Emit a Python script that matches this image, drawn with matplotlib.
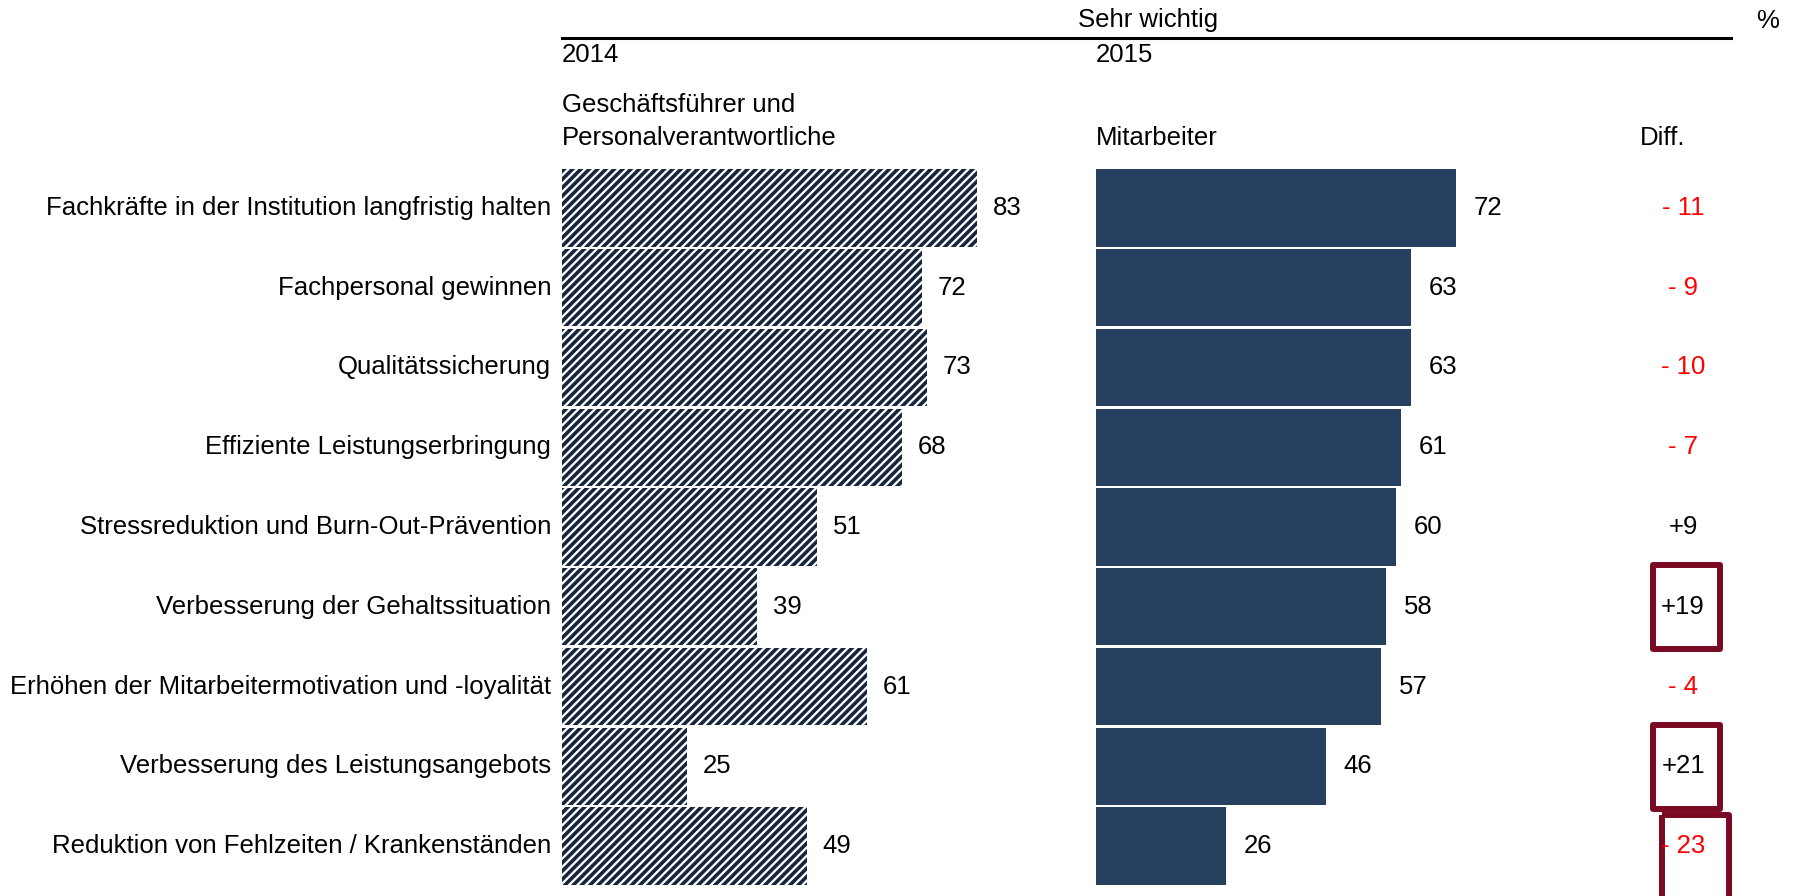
import matplotlib.pyplot as plt
from matplotlib.patches import Rectangle

plt.rcParams['font.family'] = ['Liberation Sans', 'DejaVu Sans']
plt.rcParams['hatch.linewidth'] = 2.6

categories = [
    "Fachkräfte in der Institution langfristig halten",
    "Fachpersonal gewinnen",
    "Qualitätssicherung",
    "Effiziente Leistungserbringung",
    "Stressreduktion und Burn-Out-Prävention",
    "Verbesserung der Gehaltssituation",
    "Erhöhen der Mitarbeitermotivation und -loyalität",
    "Verbesserung des Leistungsangebots",
    "Reduktion von Fehlzeiten / Krankenständen",
]
values_2014 = [83, 72, 73, 68, 51, 39, 61, 25, 49]
values_2015 = [72, 63, 63, 61, 60, 58, 57, 46, 26]
highlight = [5, 7, 8]  # rows with framed difference

W, H = 1795, 896
NAVY = "#274060"
HATCH = "#17263d"
MAROON = "#7a0a24"
FS = 18.5

fig = plt.figure(figsize=(W / 100, H / 100), dpi=100)


def px_axes(x0, width):
    # rows span pixel 168..886 from the top
    top, bottom = 168.1, 885.9
    return fig.add_axes([x0 / W, 1 - bottom / H, width / W, (bottom - top) / H])


ax_l = px_axes(562, 500)
ax_r = px_axes(1095.6, 500)

ypos = list(range(len(categories)))
for ax in (ax_l, ax_r):
    ax.set_xlim(0, 100)
    ax.set_ylim(len(categories) - 0.5, -0.5)
    ax.axis("off")

ax_l.barh(ypos, values_2014, height=0.97, color="white", edgecolor=HATCH,
          hatch="////", linewidth=0)
ax_r.barh(ypos, values_2015, height=0.97, color=NAVY, linewidth=0)

for i, (cat, a, b) in enumerate(zip(categories, values_2014, values_2015)):
    ax_l.text(-2.2, i, cat, ha="right", va="center", fontsize=FS, clip_on=False)
    ax_l.text(a + 6.0, i, str(a), ha="center", va="center", fontsize=FS)
    ax_r.text(b + 6.5, i, str(b), ha="center", va="center", fontsize=FS, clip_on=False)
    d = b - a
    if d < 0:
        ax_r.text(117.5, i, f"- {abs(d)}", ha="center", va="center", fontsize=FS,
                  color="red", clip_on=False)
    else:
        ax_r.text(117.5, i, f"+{d}", ha="center", va="center", fontsize=FS,
                  color="black", clip_on=False)

# frames around notable differences
for i in highlight:
    if i == len(categories) - 1:
        x0, y0, h = 113.3, i - 0.39, 1.1
    else:
        x0, y0, h = 111.5, i - 0.52, 1.05
    ax_r.add_patch(Rectangle((x0, y0), 13.4, h, fill=False, edgecolor=MAROON,
                             linewidth=4.3, joinstyle="round", clip_on=False))


def ftext(x, y, s, **kw):
    fig.text(x / W, 1 - y / H, s, fontsize=FS, va="center", **kw)


ftext(1148, 20, "Sehr wichtig", ha="center")
ftext(1768, 21, "%", ha="center")
fig.add_artist(plt.Line2D([562 / W, 1731 / W], [1 - 38 / H, 1 - 38 / H],
                          color="black", linewidth=2.2))
ftext(562, 55, "2014", ha="left")
ftext(1096, 55, "2015", ha="left")
ftext(562, 105, "Geschäftsführer und", ha="left")
ftext(562, 138, "Personalverantwortliche", ha="left")
ftext(1096, 138, "Mitarbeiter", ha="left")
ftext(1663, 138, "Diff.", ha="center")

fig.savefig("out.png", dpi=100)
